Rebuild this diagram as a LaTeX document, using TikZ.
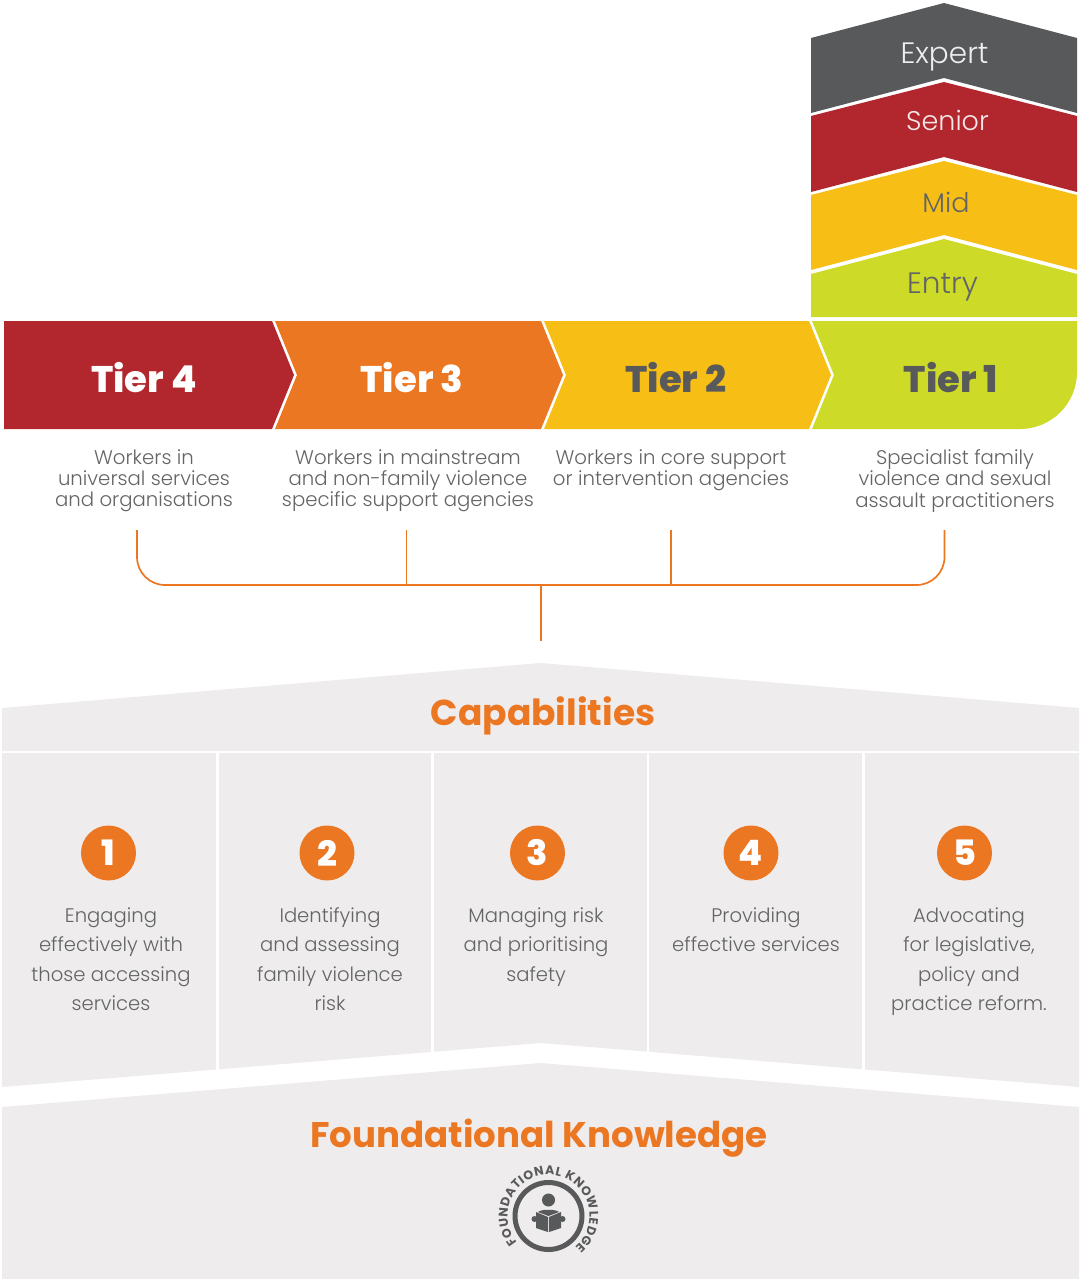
\documentclass[tikz,border=0pt]{standalone}
\usepackage{fontspec}
\usetikzlibrary{decorations.text}
\setmainfont{Poppins Light}
\newfontfamily\boldf{Poppins Bold}
\newfontfamily\xboldf{Poppins ExtraBold}
\definecolor{cred}{HTML}{B2272D}
\definecolor{corange}{HTML}{EC7723}
\definecolor{cyellow}{HTML}{F7BE16}
\definecolor{clime}{HTML}{CDDB28}
\definecolor{cdark}{HTML}{58595B}
\definecolor{cbg}{HTML}{EEECED}
\definecolor{ctext}{HTML}{636466}
\tikzset{
 x=1pt,y=-1pt,
 tiertext/.style={font=\xboldf\fontsize{37}{37}\selectfont,inner sep=0pt},
 leveltext/.style={font=\fontsize{27}{27}\selectfont,inner sep=0pt},
 desc/.style={font=\fontsize{19.7}{21.2}\selectfont,text=ctext,align=center,inner sep=0pt},
 capdesc/.style={font=\fontsize{19.6}{29.3}\selectfont,text=ctext,align=center,inner sep=0pt},
 numdisc/.style={circle,fill=corange,text=white,minimum size=55pt,inner sep=0pt,font=\xboldf\fontsize{35}{35}\selectfont},
 heading/.style={text=corange,font=\boldf\fontsize{36}{36}\selectfont,inner sep=0pt},
 bracket/.style={draw=corange,line width=1.7pt},
}
\begin{document}
\begin{tikzpicture}
\useasboundingbox (0,0) rectangle (1080,1279);
% levels
\fill[cdark] (811,38) -- (944,3) -- (1077,38) -- (1077,113) -- (944,78) -- (811,113) -- cycle;
\fill[cred] (811,116) -- (944,82) -- (1077,116) -- (1077,192) -- (944,157) -- (811,192) -- cycle;
\fill[cyellow] (811,195) -- (944,161) -- (1077,195) -- (1077,270) -- (944,235) -- (811,270) -- cycle;
\fill[clime] (811,274) -- (944,239) -- (1077,274) -- (1077,317) -- (811,317) -- cycle;
\node[leveltext,font=\fontsize{29.5}{29.5}\selectfont,text=white!90!cdark] (expert) at (944.5,57) {Expert};
\node[leveltext,text=white!90!cred] (senior) at (947.5,120) {Senior};
\node[leveltext,text=ctext] (mid) at (946,202.5) {Mid};
\node[leveltext,font=\fontsize{29.5}{29.5}\selectfont,text=ctext] (entry) at (942.5,287) {Entry};
% tiers
\fill[cred] (4,321) -- (272,321) -- (294,375) -- (272,429) -- (4,429) -- cycle;
\fill[corange] (275,321) -- (541,321) -- (563,375) -- (541,429) -- (275,429) -- (297,375) -- cycle;
\fill[cyellow] (544,321) -- (809,321) -- (831,375) -- (809,429) -- (544,429) -- (566,375) -- cycle;
\fill[clime] (812,321) -- (1077,321) -- (1077,372) arc[start angle=0,end angle=90,radius=57] -- (812,429) -- (834,375) -- cycle;
\node[tiertext,text=white] (t4) at (144,378) {Tier 4};
\node[tiertext,text=white] (t3) at (412,378) {Tier 3};
\node[tiertext,text=cdark] (t2) at (676,378) {Tier 2};
\node[tiertext,text=cdark] (t1) at (951,378) {Tier 1};
% descriptions
\node[desc] (d4) at (144,481) {Workers in\\universal services\\and organisations};
\node[desc] (d3) at (408,481) {Workers in mainstream\\and non-family violence\\specific support agencies};
\node[desc] (d2) at (671,470.5) {Workers in core support\\or intervention agencies};
\node[desc] (d1) at (955,481) {Specialist family\\violence and sexual\\assault practitioners};
% bracket
\coordinate (b4) at (137,530);
\coordinate (b3) at (406.5,530);
\coordinate (b2) at (671,530);
\coordinate (b1) at (944.5,530);
\coordinate (bj3) at (406.5,585);
\coordinate (bj2) at (671,585);
\coordinate (bm) at (541,585);
\coordinate (bs) at (541,641);
\draw[bracket,rounded corners=28pt] (b4) |- (bm) -| (b1);
\draw[bracket] (b3) -- (bj3);
\draw[bracket] (b2) -- (bj2);
\draw[bracket] (bm) -- (bs);
% capabilities
\fill[cbg] (2,708) -- (541,663) -- (1079,708) -- (1079,751) -- (2,751) -- cycle;
\node[heading] (cap) at (543,716) {Capabilities};
\fill[cbg] (2,753) -- (1079,753) -- (1079,1087) -- (541,1043) -- (2,1087) -- cycle;
\foreach \xx/\yy in {217.5/1070,432.5/1052,648/1052,863.5/1070}
  \draw[white,line width=2.5pt] (\xx,751) -- (\xx,\yy);
\node[numdisc] (n1) at (108.5,853) {1};
\node[numdisc] (n2) at (327,853) {2};
\node[numdisc] (n3) at (537.5,853) {3};
\node[numdisc] (n4) at (751,853) {4};
\node[numdisc] (n5) at (964.5,853) {5};
\node[capdesc,anchor=north] (c1) at (111,907.5) {Engaging\\effectively with\\those accessing\\services};
\node[capdesc,anchor=north] (c2) at (330,907.5) {Identifying\\and assessing\\family violence\\risk};
\node[capdesc,anchor=north] (c3) at (536,907.5) {Managing risk\\and prioritising\\safety};
\node[capdesc,anchor=north] (c4) at (756,907.5) {Providing\\effective services};
\node[capdesc,anchor=north] (c5) at (969,907.5) {Advocating\\for legislative,\\policy and\\practice reform.};
% foundation
\fill[cbg] (2,1107) -- (541,1063) -- (1079,1107) -- (1079,1279) -- (2,1279) -- cycle;
\node[heading,font=\boldf\fontsize{35.6}{35.6}\selectfont] (fk) at (539,1138) {Foundational Knowledge};
% emblem
\draw[cdark,line width=5pt] (548.5,1216) circle[radius=33.5];
\fill[cdark] (548.5,1200) circle[radius=6.5];
\fill[cdark] (538,1212) .. controls (541,1209) and (556,1209) .. (559,1212) -- (548.5,1216) -- cycle;
\fill[cdark] (536,1212) -- (548,1217) -- (548,1232) -- (536,1228) -- cycle;
\fill[cdark] (561,1212) -- (549,1217) -- (549,1232) -- (561,1228) -- cycle;
\fill[cdark] (534.5,1219) circle[radius=3];
\fill[cdark] (562.5,1219) circle[radius=3];
\begin{scope}[shift={(548.5,1216)},y=1pt]
\path[decorate,decoration={text along path,text align={fit to path},
  text={|\boldf\fontsize{12.5}{12.5}\selectfont\color{cdark}|FOUNDATIONAL KNOWLEDGE}}]
  (220:41) arc[start angle=220,end angle=-50,radius=41];
\end{scope}
\end{tikzpicture}
\end{document}
